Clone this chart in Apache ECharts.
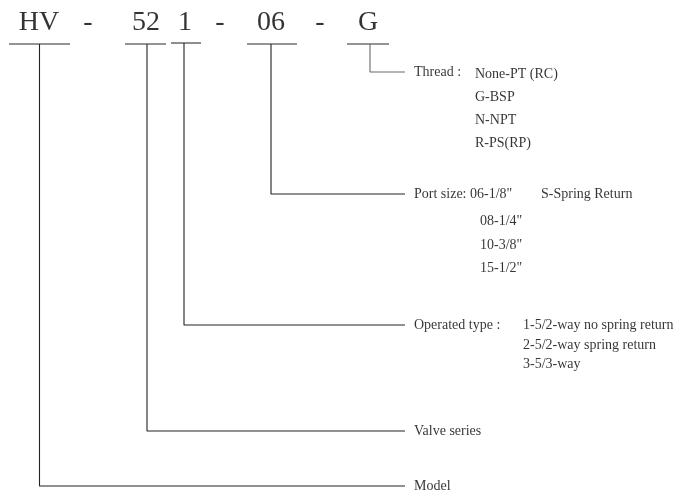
<!DOCTYPE html>
<html>
<head>
<meta charset="utf-8">
<script src="https://cdn.jsdelivr.net/npm/echarts@6/dist/echarts.min.js"></script>
<style>
  html, body { margin: 0; padding: 0; background: #ffffff; }
  #chart { width: 694px; height: 497px; }
</style>
</head>
<body>
<div id="chart"></div>
<script>
// ---- content (data) ----
const codeParts = ['HV', '-', '52', '1', '-', '06', '-', 'G'];
const fieldTitles = ['Thread :', 'Port size: 06-1/8"', 'Operated type :', 'Valve series', 'Model'];
const fieldCodes = ['G', '06', '1', '52', 'HV'];
const threadOptions = ['None-PT (RC)', 'G-BSP', 'N-NPT', 'R-PS(RP)'];
const portOptions = ['08-1/4"', '10-3/8"', '15-1/2"'];
const portExtra = ['S-Spring Return'];
const operatedOptions = ['1-5/2-way no spring return', '2-5/2-way spring return', '3-5/3-way'];

// ---- layout (diagram geometry, in canvas units) ----
const W = 694, H = 497;
const codeCenterX = [39, 88, 146, 185, 220, 271, 320, 368];
const codeTextY = 23;
const underlines = { HV: [9, 70, 44], '52': [125, 166, 44], '1': [171, 201, 43], '06': [247, 297, 44], G: [347, 389, 44] };
const connectorX = { HV: 39.5, '52': 147, '1': 184, '06': 271, G: 370 };
const rowY = [72, 194, 325, 431, 486];
const branchEndX = 405;
const titleX = 414;
const threadX = 475, threadY = [74, 97, 120, 143];
const portX = 480, portY = [221, 245, 268];
const portExtraX = 541;
const operatedX = 523, operatedY = [325, 345, 364];

// ---- build series ----
const series = [];
const serif = 'Liberation Serif, Times New Roman, serif';

// underlines under code parts
Object.keys(underlines).forEach(function (k) {
  const u = underlines[k];
  series.push({
    type: 'line', data: [[u[0], u[2]], [u[1], u[2]]], symbol: 'none', silent: true,
    lineStyle: { color: '#707070', width: 1.6 }, animation: false
  });
});

// connectors
fieldCodes.forEach(function (code, i) {
  const x = connectorX[code];
  const u = underlines[code];
  series.push({
    type: 'line', data: [[x, u[2]], [x, rowY[i]], [branchEndX, rowY[i]]], symbol: 'none', silent: true,
    lineStyle: { color: code === 'G' ? '#6a6a6a' : '#222222', width: 1.1 }, animation: false
  });
});

function textSeries(points, size, align) {
  return {
    type: 'scatter', symbolSize: 0, silent: true, animation: false,
    data: points,
    label: {
      show: true, position: 'inside', align: align, verticalAlign: 'middle',
      fontFamily: serif, fontSize: size, color: '#000000', textBorderWidth: 0,
      formatter: function (p) { return p.name; }
    }
  };
}

series.push(textSeries(codeParts.map(function (c, i) { return { name: c, value: [codeCenterX[i], codeTextY] }; }), 28, 'center'));
series.push(textSeries(fieldTitles.map(function (t, i) { return { name: t, value: [titleX, rowY[i]] }; }), 14, 'left'));
series.push(textSeries(threadOptions.map(function (t, i) { return { name: t, value: [threadX, threadY[i]] }; }), 14, 'left'));
series.push(textSeries(portOptions.map(function (t, i) { return { name: t, value: [portX, portY[i]] }; }), 14, 'left'));
series.push(textSeries(portExtra.map(function (t) { return { name: t, value: [portExtraX, rowY[1]] }; }), 14, 'left'));
series.push(textSeries(operatedOptions.map(function (t, i) { return { name: t, value: [operatedX, operatedY[i]] }; }), 14, 'left'));

const chart = echarts.init(document.getElementById('chart'), null, { renderer: 'canvas' });
chart.setOption({
  backgroundColor: '#ffffff',
  animation: false,
  grid: { left: 0, right: 0, top: 0, bottom: 0 },
  xAxis: { type: 'value', min: 0, max: W, show: false },
  yAxis: { type: 'value', min: 0, max: H, inverse: true, show: false },
  series: series
});
</script>
</body>
</html>
